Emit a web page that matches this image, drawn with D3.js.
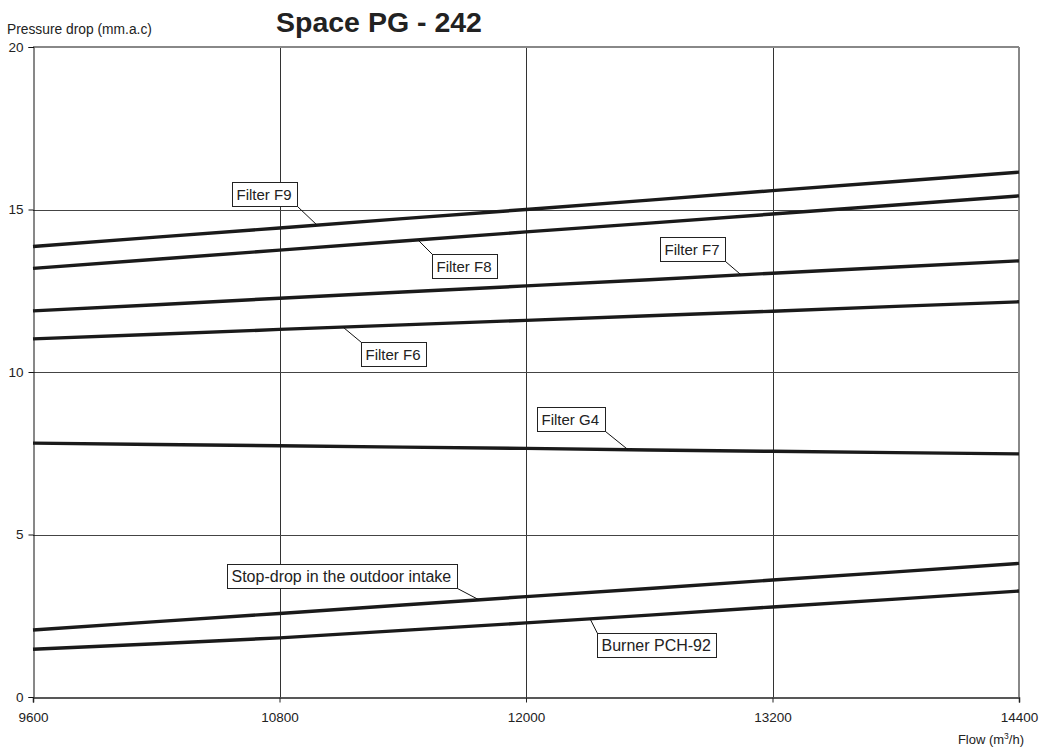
<!DOCTYPE html>
<html>
<head>
<meta charset="utf-8">
<script src="https://cdn.jsdelivr.net/npm/d3@7"></script>
<style>
  html, body { margin: 0; padding: 0; background: #fff; }
  svg { display: block; font-family: "Liberation Sans", Arial, sans-serif; }
</style>
</head>
<body>
<svg id="chart" width="1041" height="751"></svg>
<script>
// ---- data ----
const flows = [9600, 10200, 10800, 11400, 12000, 12600, 13200, 13800, 14400];
const filterF9 = [13.86, 14.15, 14.43, 14.72, 15.00, 15.29, 15.58, 15.86, 16.15];
const filterF8 = [13.19, 13.47, 13.75, 14.03, 14.31, 14.58, 14.86, 15.14, 15.42];
const filterF7 = [11.88, 12.07, 12.27, 12.46, 12.65, 12.84, 13.04, 13.23, 13.42];
const filterF6 = [11.02, 11.16, 11.31, 11.45, 11.59, 11.73, 11.87, 12.02, 12.16];
const filterG4 = [7.81, 7.77, 7.73, 7.69, 7.65, 7.60, 7.56, 7.52, 7.48];
const stopDrop = [2.06, 2.32, 2.57, 2.83, 3.09, 3.34, 3.60, 3.85, 4.11];
const burner   = [1.47, 1.64, 1.82, 2.05, 2.28, 2.52, 2.77, 3.01, 3.26];
const seriesNames = ["Filter F9", "Filter F8", "Filter F7", "Filter F6", "Filter G4",
                     "Stop-drop in the outdoor intake", "Burner PCH-92"];
const seriesValues = [filterF9, filterF8, filterF7, filterF6, filterG4, stopDrop, burner];
const xTicks = [9600, 10800, 12000, 13200, 14400];
const yTicks = [0, 5, 10, 15, 20];
const titleText = "Space PG - 242";
const yTitle = "Pressure drop (mm.a.c)";

// callout placement (layout): flow where leader touches, box left (flow) / top (value), corner of leader
const callouts = [
  { s: 0, touch: 10983, bx: 10569, by: 15.85, corner: "br", fs: 15 },
  { s: 1, touch: 11474, bx: 11542, by: 13.63, corner: "tl", fs: 15 },
  { s: 2, touch: 13047, bx: 12652, by: 14.15, corner: "br", fs: 15 },
  { s: 3, touch: 11109, bx: 11197, by: 10.92, corner: "tl", fs: 15 },
  { s: 4, touch: 12497, bx: 12053, by: 8.92,  corner: "br", fs: 15 },
  { s: 5, touch: 11771, bx: 10544, by: 4.09,  corner: "br", fs: 16 },
  { s: 6, touch: 12312, bx: 12345, by: 1.97,  corner: "tl", fs: 16 }
];

// ---- layout ----
const svg = d3.select("#chart");
const L = 33, R = 1019, T = 47, B = 697;
const x = d3.scaleLinear().domain([9600, 14400]).range([L, R]);
const y = d3.scaleLinear().domain([0, 20]).range([B, T]);
const FONT = "Liberation Sans, Arial, sans-serif";

// grid
const g = svg.append("g");
g.selectAll("line.vg").data(xTicks.slice(1, -1)).join("line")
  .attr("x1", d => Math.round(x(d)) + 0.5).attr("x2", d => Math.round(x(d)) + 0.5)
  .attr("y1", T).attr("y2", B)
  .attr("stroke", "#333").attr("stroke-width", 1);
g.selectAll("line.hg").data(yTicks.slice(1, -1)).join("line")
  .attr("x1", L).attr("x2", R)
  .attr("y1", d => Math.round(y(d)) + 0.5).attr("y2", d => Math.round(y(d)) + 0.5)
  .attr("stroke", "#444").attr("stroke-width", 1);
// top & right border
g.append("line").attr("x1", L).attr("x2", R).attr("y1", T).attr("y2", T)
  .attr("stroke", "#888").attr("stroke-width", 2);
g.append("line").attr("x1", R).attr("x2", R).attr("y1", T).attr("y2", B)
  .attr("stroke", "#888").attr("stroke-width", 2);

// axes
const yAxis = d3.axisLeft(y).tickValues(yTicks).tickSize(5).tickPadding(5).tickFormat(d3.format("d"));
const yg = svg.append("g").attr("transform", `translate(${L + 0.5},0)`).call(yAxis);
yg.select(".domain").attr("stroke", "#111");
yg.selectAll(".tick line").attr("stroke", "#111");
yg.selectAll("text").attr("font-size", 13.5).attr("fill", "#222").attr("font-family", FONT);

const xAxis = d3.axisBottom(x).tickValues(xTicks).tickSize(5).tickPadding(10).tickFormat(d3.format("d"));
const xg = svg.append("g").attr("transform", `translate(0,${B + 0.5})`).call(xAxis);
xg.select(".domain").attr("stroke", "#222").attr("stroke-width", 1.5);
xg.selectAll(".tick line").attr("stroke", "#222");
xg.selectAll("text").attr("font-size", 13.5).attr("fill", "#222").attr("font-family", FONT);

// series lines
const line = d3.line().x((d, i) => x(flows[i])).y(d => y(d));
svg.append("g").selectAll("path").data(seriesValues).join("path")
  .attr("d", d => line(d))
  .attr("fill", "none").attr("stroke", "#1a1a1a").attr("stroke-width", 3.4)
  .attr("stroke-linejoin", "round");

// callouts
const interp = (vals, f) => {
  const i = Math.min(flows.length - 2, Math.max(0, d3.bisectRight(flows, f) - 1));
  const t = (f - flows[i]) / (flows[i + 1] - flows[i]);
  return vals[i] + t * (vals[i + 1] - vals[i]);
};
const cg = svg.append("g");
callouts.forEach(c => {
  const grp = cg.append("g");
  const txt = grp.append("text").text(seriesNames[c.s])
    .attr("font-size", c.fs).attr("fill", "#222");
  const bb = txt.node().getBBox();
  const padL = 4, padR = 6, h = 24;
  const bw = Math.round(bb.width + padL + padR);
  const bxp = Math.round(x(c.bx)) + 0.5, byp = Math.round(y(c.by)) + 0.5;
  txt.attr("x", bxp + padL).attr("y", byp + 17);
  grp.insert("rect", "text").attr("x", bxp).attr("y", byp).attr("width", bw).attr("height", h)
    .attr("fill", "#fff").attr("stroke", "#222").attr("stroke-width", 1);
  const tx = x(c.touch), ty = y(interp(seriesValues[c.s], c.touch));
  const cx = c.corner === "br" ? bxp + bw : bxp;
  const cy = c.corner === "br" ? byp + h : byp;
  grp.insert("line", "rect").attr("x1", cx).attr("y1", cy).attr("x2", tx).attr("y2", ty)
    .attr("stroke", "#111").attr("stroke-width", 1);
});

// titles
svg.append("text").attr("x", 276).attr("y", 32).text(titleText)
  .attr("font-size", 28.5).attr("font-weight", "bold").attr("fill", "#222");
svg.append("text").attr("x", 7).attr("y", 34).text(yTitle)
  .attr("font-size", 13.8).attr("fill", "#222");
const ft = svg.append("text").attr("x", 1024).attr("y", 744).attr("text-anchor", "end")
  .attr("font-size", 13).attr("fill", "#222");
ft.append("tspan").text("Flow (m");
ft.append("tspan").text("3").attr("font-size", 8.5).attr("dy", -5);
ft.append("tspan").text("/h)").attr("dy", 5);
</script>
</body>
</html>
